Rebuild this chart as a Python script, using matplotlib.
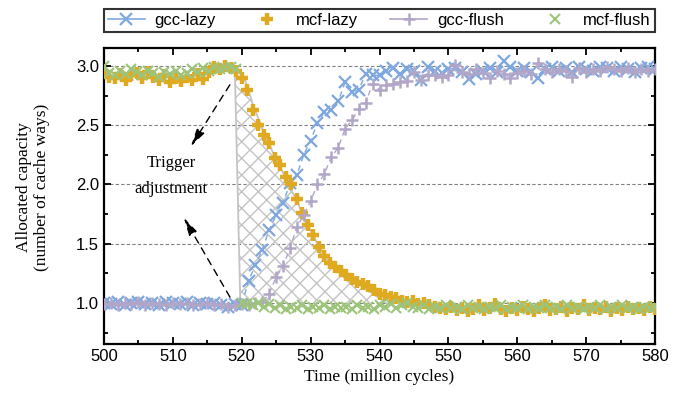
import numpy as np
import matplotlib
matplotlib.use('Agg')
import matplotlib.pyplot as plt
from matplotlib.lines import Line2D
from matplotlib.ticker import MultipleLocator

# gcc series sampled every 1M cycles (500..580)
gcc_lazy = [1.00, 0.99, 1.01, 0.98, 1.00, 1.01, 0.99, 1.00, 0.98, 1.01,
            1.00, 0.99, 1.01, 0.98, 1.00, 0.99, 1.00, 0.98, 0.97, 0.99,
            0.98, 1.19, 1.32, 1.45, 1.62, 1.74, 1.84, 2.01, 2.08, 2.25,
            2.37, 2.52, 2.61, 2.63, 2.70, 2.86, 2.78, 2.80, 2.93, 2.92,
            2.92, 2.96, 2.98, 2.93, 2.97, 2.96, 2.88, 2.99, 2.96, 2.94,
            2.97, 2.98, 2.95, 2.89, 2.93, 2.96, 2.98, 2.95, 3.04, 2.99,
            2.96, 2.98, 2.95, 2.90, 2.97, 2.99, 2.96, 2.98, 2.95, 2.99,
            2.97, 2.96, 2.99, 2.98, 2.96, 2.99, 2.97, 2.95, 2.98, 2.99,
            2.97]
gcc_flush = [0.99, 1.00, 0.98, 1.00, 0.99, 1.01, 0.98, 1.00, 0.99, 0.98,
             1.00, 0.99, 1.00, 0.98, 0.99, 1.00, 0.98, 0.99, 0.97, 0.98,
             0.99, 0.98, 1.00, 1.01, 1.08, 1.22, 1.31, 1.46, 1.64, 1.74,
             1.86, 2.00, 2.09, 2.23, 2.31, 2.47, 2.54, 2.64, 2.69, 2.85,
             2.80, 2.84, 2.85, 2.86, 2.87, 2.95, 2.88, 2.92, 2.92, 2.91,
             2.92, 3.01, 2.95, 2.93, 2.97, 2.94, 2.90, 2.96, 2.93, 2.90,
             2.94, 2.96, 2.93, 3.02, 2.97, 2.95, 2.97, 2.96, 2.91, 2.98,
             2.95, 2.97, 2.96, 2.99, 2.97, 2.96, 2.98, 2.95, 2.97, 2.96,
             2.97]

# mcf series sampled every 0.8M cycles (500..580)
mcf_lazy = [2.95, 2.91, 2.90, 2.93, 2.88, 2.92, 2.94, 2.90, 2.95, 2.91,
            2.88, 2.92, 2.86, 2.90, 2.87, 2.91, 2.88, 2.93, 2.89, 2.95,
            2.99, 2.97, 3.00, 2.98,
            2.96, 2.90, 2.80, 2.63, 2.50, 2.42, 2.35, 2.22, 2.16, 2.06,
            2.00, 1.88, 1.76, 1.66, 1.57, 1.47, 1.40, 1.34, 1.30, 1.27,
            1.24, 1.20, 1.18, 1.16, 1.14, 1.11, 1.08, 1.07, 1.05, 1.04,
            1.02, 1.01, 1.02, 0.99, 1.00, 0.98, 0.97, 0.96, 0.95,
            0.97, 0.94, 0.96, 0.93, 0.95, 0.98, 0.94, 0.96, 0.99, 0.95,
            0.93, 0.96, 0.94, 0.97, 0.95, 0.93, 0.96, 0.98, 0.94, 0.95,
            0.97, 0.93, 0.96, 0.95, 0.98, 0.94, 0.96, 0.95, 0.97, 0.93,
            0.96, 0.94, 0.97, 0.95, 0.96, 0.94, 0.97, 0.95]
mcf_flush = [3.00, 2.94, 2.92, 2.96, 2.93, 2.97, 2.95, 2.92, 2.96, 2.94,
             2.91, 2.95, 2.93, 2.96, 2.92, 2.94, 2.97, 2.95, 2.98, 2.96,
             2.99, 2.97, 2.98, 2.99, 2.97,
             1.00, 0.99, 0.98, 1.00, 0.97, 0.99, 0.96, 0.98, 0.95, 0.97,
             0.96, 0.98, 0.95, 0.97, 0.96, 0.98, 0.95, 0.97, 0.96, 0.97,
             0.95, 0.98, 0.96, 0.97, 0.95, 0.98, 0.97, 0.99, 0.96, 0.98,
             1.00, 0.97, 0.96, 0.98, 0.95, 0.97, 0.96, 0.98, 0.96, 0.97,
             0.95, 0.98, 0.96, 0.97, 0.95, 0.97, 0.96, 0.98, 0.95, 0.97,
             0.96, 0.98, 0.95, 0.97, 0.96, 0.98, 0.96, 0.97, 0.95, 0.98,
             0.96, 0.97, 0.95, 0.97, 0.96, 0.98, 0.95, 0.97, 0.96, 0.98,
             0.96, 0.97, 0.95, 0.97, 0.96, 0.97]

# shaded "adjustment" region: vertical edge + smoothed mcf-lazy curve
edge_x = [519.0, 519.8]
edge_y = [2.98, 1.00]
curve_x = [519.0, 520.0, 520.7, 521.7, 523.1, 524.6, 526.5, 528.0, 529.0,
           530.0, 531.0, 532.0, 533.0, 534.0, 535.0, 536.0, 537.0, 538.0,
           539.0, 540.0, 541.0]
curve_y = [2.98, 2.94, 2.85, 2.66, 2.46, 2.26, 2.04, 1.86, 1.73,
           1.61, 1.50, 1.41, 1.34, 1.28, 1.24, 1.20, 1.16, 1.12,
           1.08, 1.04, 1.00]

c_gl = '#7EA8DF'
c_ml = '#E0AA20'
c_gf = '#B2A6C8'
c_mf = '#9DC47A'

plt.rcParams['font.family'] = ['Liberation Sans', 'DejaVu Sans']
serif = 'Liberation Serif'

fig = plt.figure(figsize=(6.97, 3.94), dpi=100)
ax = fig.add_axes([0.149, 0.127, 0.791, 0.751])

t_gcc = np.linspace(500, 580, len(gcc_lazy))
t_gccf = np.linspace(500, 580, len(gcc_flush))
t_ml = np.linspace(500, 580, len(mcf_lazy))
t_mf = np.linspace(500, 580, len(mcf_flush))

# hatched region
poly_x = edge_x + curve_x[::-1]
poly_y = edge_y + curve_y[::-1]
ax.fill(poly_x, poly_y, facecolor='none', edgecolor='#c4c4c4', hatch='xx',
        linewidth=0, zorder=1)
ax.plot(edge_x, edge_y, color='#c4c4c4', lw=1.3, zorder=1.5)
ax.plot(curve_x, curve_y, color='#c4c4c4', lw=1.3, zorder=1.5)

ax.plot(t_gcc, gcc_lazy, color=c_gl, marker='x', ms=9, mew=1.6,
        linestyle=(0, (4, 3)), lw=1, zorder=3)
ax.plot(t_ml, mcf_lazy, color=c_ml, marker='+', ms=8, mew=3.2,
        linestyle='none', zorder=3)
ax.plot(t_gccf, gcc_flush, color=c_gf, marker='+', ms=9, mew=1.8,
        linestyle=(0, (4, 3)), lw=1, zorder=3)
ax.plot(t_mf, mcf_flush, color=c_mf, marker='x', ms=7, mew=1.5,
        linestyle='none', zorder=3)

# annotation
ax.text(509.8, 2.18, 'Trigger', family=serif, fontsize=12,
        ha='center', va='center')
ax.text(509.8, 1.96, 'adjustment', family=serif, fontsize=12,
        ha='center', va='center')
arrow = dict(arrowstyle='-|>,head_length=0.9,head_width=0.22',
             linestyle=(0, (5, 4)), color='black', lw=1, mutation_scale=12)
ax.annotate('', xy=(512.4, 2.30), xytext=(518.5, 2.86), arrowprops=arrow)
ax.annotate('', xy=(511.4, 1.74), xytext=(518.5, 1.03), arrowprops=arrow)

ax.set_xlim(500, 580)
ax.set_ylim(0.655, 3.15)
ax.xaxis.set_major_locator(MultipleLocator(10))
ax.xaxis.set_minor_locator(MultipleLocator(5))
ax.yaxis.set_major_locator(MultipleLocator(0.5))
ax.yaxis.set_minor_locator(MultipleLocator(0.25))
ax.yaxis.set_major_formatter(matplotlib.ticker.FormatStrFormatter('%.1f'))
ax.tick_params(which='both', direction='in', top=True, right=True,
               labelsize=12, width=1.3)
ax.tick_params(which='major', length=5)
ax.tick_params(which='minor', length=3)
for s in ax.spines.values():
    s.set_linewidth(1.6)
ax.yaxis.grid(True, linestyle=(0, (3, 2)), color='#808080', lw=0.8)
ax.set_axisbelow(True)

ax.set_xlabel('Time (million cycles)', family=serif, fontsize=12.5)
ax.set_ylabel('Allocated capacity\n(number of cache ways)', family=serif,
              fontsize=12.5, linespacing=1.15)
ax.yaxis.set_label_coords(-0.098, 0.53)

handles = [
    Line2D([], [], color=c_gl, marker='x', ms=9, mew=1.6, lw=1.2),
    Line2D([], [], color=c_ml, marker='+', ms=8, mew=3.2, linestyle='none'),
    Line2D([], [], color=c_gf, marker='+', ms=9, mew=1.8, lw=1.2),
    Line2D([], [], color=c_mf, marker='x', ms=7, mew=1.5, linestyle='none'),
]
labels = ['gcc-lazy', 'mcf-lazy', 'gcc-flush', 'mcf-flush']
leg = ax.legend(handles, labels, loc='lower left',
                bbox_to_anchor=(0, 1.054, 1, 0.095), mode='expand', ncol=4,
                borderaxespad=0, fontsize=12, frameon=True, fancybox=False,
                handlelength=2.2, handletextpad=0.6, borderpad=0.25,
                columnspacing=0.8)
leg.get_frame().set_edgecolor('black')
leg.get_frame().set_linewidth(1.5)

fig.savefig('out.png', dpi=100)
